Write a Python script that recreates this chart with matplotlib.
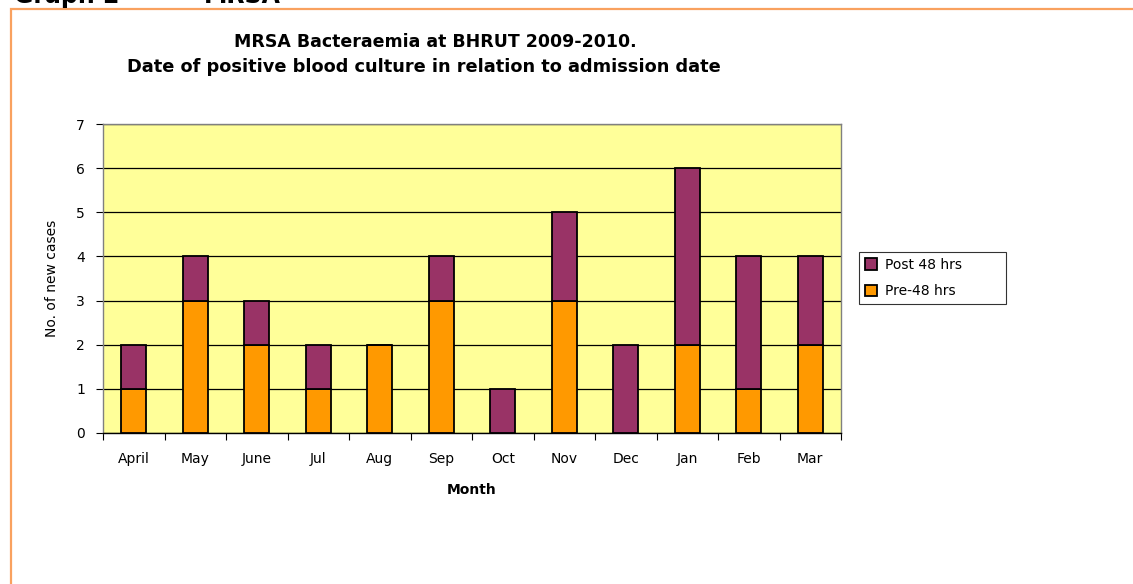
import matplotlib
matplotlib.use("Agg")
import matplotlib.pyplot as plt
from matplotlib.patches import Rectangle
import numpy as np

plt.rcParams['font.family'] = ['DejaVu Sans']

months = ["April", "May", "June", "Jul", "Aug", "Sep", "Oct", "Nov", "Dec", "Jan", "Feb", "Mar"]
pre48 = [1, 3, 2, 1, 2, 3, 0, 3, 0, 2, 1, 2]
post48 = [1, 1, 1, 1, 0, 1, 1, 2, 2, 4, 3, 2]

W, H = 1133, 584
fig = plt.figure(figsize=(W / 100, H / 100), dpi=100)
fig.patch.set_facecolor('white')

# orange frame
fig.patches.append(Rectangle((11 / W, -0.05), 1.2, 1 - 9 / H + 0.05, transform=fig.transFigure,
                             fill=False, edgecolor='#F9A15F', linewidth=1.6, zorder=0))
fig.text(14 / W, 1 - 3 / H, "Graph 2", fontsize=17, fontweight='bold', va='baseline', ha='left')
fig.text(204 / W, 1 - 3 / H, "MRSA", fontsize=17, fontweight='bold', va='baseline', ha='left')

ax = fig.add_axes([103 / W, 1 - 433 / H, (841 - 103) / W, (433 - 124) / H])
ax.set_facecolor('#FFFF99')
x = np.arange(len(months))
ax.bar(x, pre48, width=0.41, color='#FF9900', edgecolor='black', linewidth=1.3, label='Pre-48 hrs', zorder=3)
ax.bar(x, post48, width=0.41, bottom=pre48, color='#993366', edgecolor='black', linewidth=1.3,
       label='Post 48 hrs', zorder=3)

ax.set_xlim(-0.5, len(months) - 0.5)
ax.set_ylim(0, 7)
ax.set_yticks(range(0, 8))
ax.yaxis.grid(True, color='black', linewidth=0.9, zorder=1)
ax.set_axisbelow(True)
ax.set_xticks(x)
ax.set_xticklabels(months, fontsize=10)
ax.set_xticks(np.arange(-0.5, len(months), 1), minor=True)
ax.tick_params(axis='x', which='major', length=0, pad=14)
ax.tick_params(axis='x', which='minor', length=5, direction='out', width=0.8)
ax.tick_params(axis='y', length=5, direction='out', labelsize=10, width=0.8, pad=8)
for s in ['top', 'right', 'left']:
    ax.spines[s].set_color('#808080')
    ax.spines[s].set_linewidth(1.0)
ax.spines['bottom'].set_color('black')
ax.spines['bottom'].set_linewidth(1.0)

ax.set_xlabel("Month", fontsize=10, fontweight='bold', labelpad=12)
ax.set_ylabel("No. of new cases", fontsize=10, labelpad=12)

fig.text(435 / W, 1 - 42 / H, "MRSA Bacteraemia at BHRUT 2009-2010.", fontsize=12.5, fontweight='bold',
         ha='center', va='center')
fig.text(424 / W, 1 - 67 / H, "Date of positive blood culture in relation to admission date", fontsize=12.8,
         fontweight='bold', ha='center', va='center')

handles, labels = ax.get_legend_handles_labels()
leg = fig.legend(handles[::-1], labels[::-1], loc='upper left',
                 bbox_to_anchor=(859 / W, 1 - 305 / H, 147 / W, 53 / H), mode='expand',
                 fontsize=10, frameon=True, fancybox=False, edgecolor='black', handlelength=0.9,
                 handleheight=0.9, borderpad=0.4, labelspacing=0.9, handletextpad=0.55, borderaxespad=0)
leg.get_frame().set_linewidth(0.8)

fig.savefig("out.png", dpi=100)
